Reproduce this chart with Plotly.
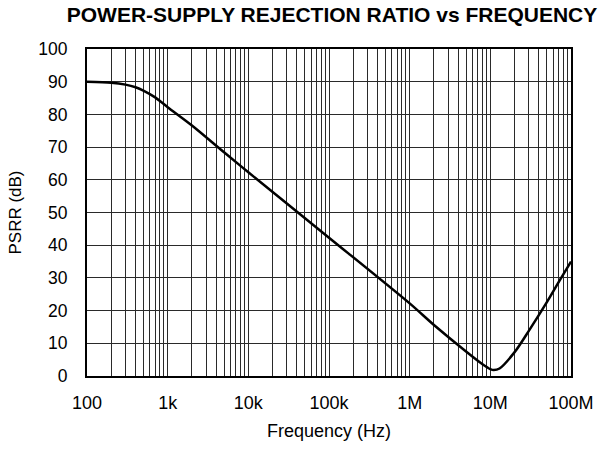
import plotly.graph_objects as go

freq_hz = [100, 200, 300, 400, 500, 700, 1e3, 2e3, 5e3, 1e4, 1e5, 1e6, 2e6, 5e6, 8e6,
           1e7, 1.1e7, 1.3e7, 2e7, 3e7, 5e7, 7e7, 1e8]
psrr_db = [90, 89.7, 89.1, 88.3, 87.3, 85.2, 82.2, 76.6, 68.4, 62.3, 42.3, 22.2, 15.6, 7.5, 3.6,
           2.1, 1.8, 2.3, 7.3, 13.8, 22.5, 28.6, 35.0]

major_vals = [1e2, 1e3, 1e4, 1e5, 1e6, 1e7, 1e8]
major_text = ["100", "1k", "10k", "100k", "1M", "10M", "100M"]
minor_vals = [m * 10 ** e for e in range(2, 8) for m in range(2, 10)]
y_ticks = list(range(0, 101, 10))

font_family = "Liberation Sans, Arial, sans-serif"
grid_color = "#2a2a2a"

W, H = 606, 450

fig = go.Figure()
fig.add_trace(go.Scatter(
    x=freq_hz, y=psrr_db, mode="lines",
    line=dict(color="black", width=2.5, shape="spline", smoothing=0.8),
    showlegend=False, hoverinfo="skip",
))

fig.update_layout(
    width=W, height=H,
    margin=dict(l=87, r=28, t=49, b=69),
    paper_bgcolor="white", plot_bgcolor="white",
    font=dict(family=font_family, color="black", size=18),
    title=dict(text="<b>POWER-SUPPLY REJECTION RATIO vs FREQUENCY</b>",
               x=332 / W, xref="container", xanchor="center",
               y=1 - 15 / H, yref="container", yanchor="middle",
               font=dict(size=21, family=font_family, color="black")),
    hovermode=False,
)

fig.update_xaxes(
    type="log", range=[2, 8],
    tickmode="array", tickvals=major_vals, ticktext=major_text,
    showgrid=True, gridcolor=grid_color, gridwidth=1,
    minor=dict(tickmode="array", tickvals=minor_vals, showgrid=True,
               gridcolor=grid_color, gridwidth=1, ticks=""),
    showline=True, linecolor="black", linewidth=2, mirror=True,
    ticks="", ticklabelstandoff=9,
    tickfont=dict(size=18),
    title=dict(text="Frequency (Hz)", font=dict(size=18), standoff=13),
    zeroline=False,
)

fig.update_yaxes(
    range=[0, 100], tickmode="array", tickvals=y_ticks,
    showgrid=True, gridcolor=grid_color, gridwidth=1,
    showline=True, linecolor="black", linewidth=2, mirror=True,
    ticks="", ticklabelstandoff=14,
    tickfont=dict(size=17.5),
    title=dict(text="PSRR (dB)", font=dict(size=17), standoff=12),
    zeroline=False,
)

# remove the default 8px page margin so the figure fills the 606x450 window
fig.write_html("out.html", config={"displayModeBar": False},
               post_script="document.body.style.margin='0px';")
